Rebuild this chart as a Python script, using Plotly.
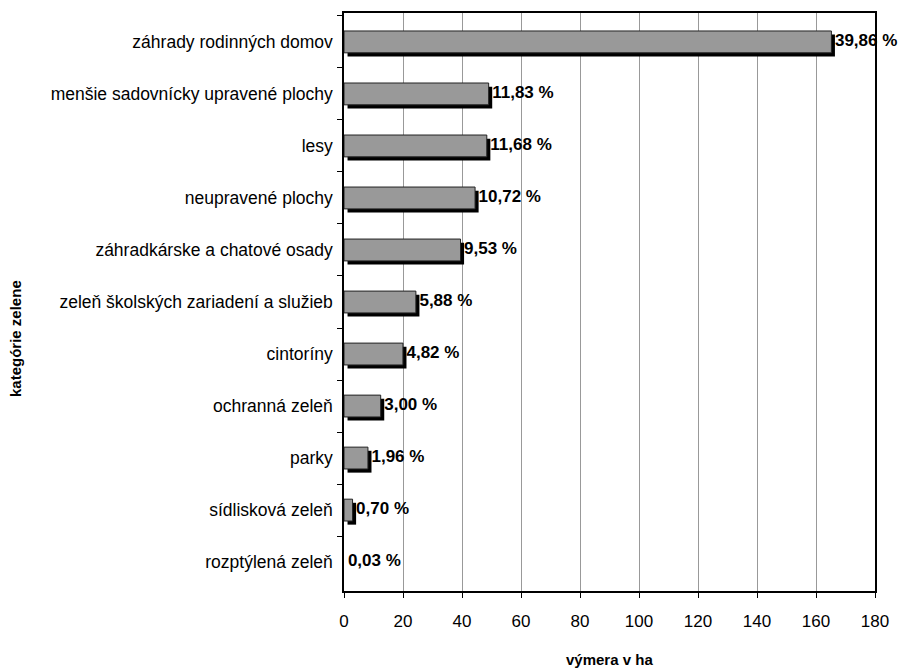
import plotly.graph_objects as go

# Green-space categories (top to bottom) and their share of the total area
categories = [
    "záhrady rodinných domov",
    "menšie sadovnícky upravené plochy",
    "lesy",
    "neupravené plochy",
    "záhradkárske a chatové osady",
    "zeleň školských zariadení a služieb",
    "cintoríny",
    "ochranná zeleň",
    "parky",
    "sídlisková zeleň",
    "rozptýlená zeleň",
]
share_pct = [39.86, 11.83, 11.68, 10.72, 9.53, 5.88, 4.82, 3.00, 1.96, 0.70, 0.03]
total_area_ha = 414.5  # total green area; each bar is its share of this

x_ticks = [0, 20, 40, 60, 80, 100, 120, 140, 160, 180]

area_ha = [round(total_area_ha * p / 100, 2) for p in share_pct]
labels = [f"{p:.2f} %".replace(".", ",") for p in share_pct]

FONT = "Liberation Sans, Arial, sans-serif"
BAR_W = 0.42
SHADOW_DX = 1.2     # shadow shift to the right, in ha
SHADOW_DY = 0.07    # shadow shift downwards, in category units
MIN_VISIBLE = 1.0   # bars thinner than this (in ha) are sub-pixel and not drawn

visible = [1 if a >= MIN_VISIBLE else 0 for a in area_ha]

fig = go.Figure()

# drop shadow behind each bar
fig.add_trace(go.Bar(
    y=categories, x=area_ha, base=SHADOW_DX, orientation="h",
    width=BAR_W, offset=-BAR_W / 2 + SHADOW_DY,
    marker=dict(color="black", line=dict(width=0), opacity=visible),
    hoverinfo="skip", showlegend=False,
))

# main grey bars
fig.add_trace(go.Bar(
    y=categories, x=area_ha, orientation="h",
    width=BAR_W, offset=-BAR_W / 2,
    marker=dict(color="#999999", line=dict(color="#222222", width=1),
                opacity=visible),
    showlegend=False,
))

# percentage labels just right of the shadow
fig.add_trace(go.Scatter(
    y=categories, x=[a + SHADOW_DX for a in area_ha], mode="text",
    text=labels, textposition="middle right",
    textfont=dict(family=FONT, size=17, color="black", weight="bold"),
    cliponaxis=False, hoverinfo="skip", showlegend=False,
))

W, H = 900, 670
L, R, T, B = 344, 25, 13, 79
PW, PH = W - L - R, H - T - B

fig.update_layout(
    width=W, height=H,
    margin=dict(l=L, r=R, t=T, b=B),
    paper_bgcolor="white", plot_bgcolor="white",
    barmode="overlay",
    font=dict(family=FONT, color="black"),
    xaxis=dict(
        range=[0, 180], tickvals=x_ticks, ticks="outside", ticklen=5,
        tickcolor="black", showgrid=True, gridcolor="#999999", gridwidth=1,
        showline=True, linecolor="black", linewidth=1.5, mirror=True,
        zeroline=False, tickfont=dict(size=17), ticklabelstandoff=9,
    ),
    yaxis=dict(
        autorange="reversed", ticks="outside", ticklen=5, tickson="boundaries",
        tickcolor="black", showgrid=False,
        showline=True, linecolor="black", linewidth=1.5, mirror=True,
        tickfont=dict(size=17.5), ticklabelstandoff=6,
    ),
    annotations=[
        # x-axis title, centred under the plot
        dict(text="<b>výmera v ha</b>", x=0.5, xref="paper",
             y=(H - 659 - B) / PH, yref="paper", yanchor="middle",
             showarrow=False, font=dict(size=15)),
        # y-axis title, rotated, at the left edge
        dict(text="<b>kategórie zelene</b>", textangle=-90,
             x=(15 - L) / PW, xref="paper", xanchor="center",
             y=(H - 339 - B) / PH, yref="paper", yanchor="middle",
             showarrow=False, font=dict(size=15)),
    ],
)

fig.write_html("out.html")
